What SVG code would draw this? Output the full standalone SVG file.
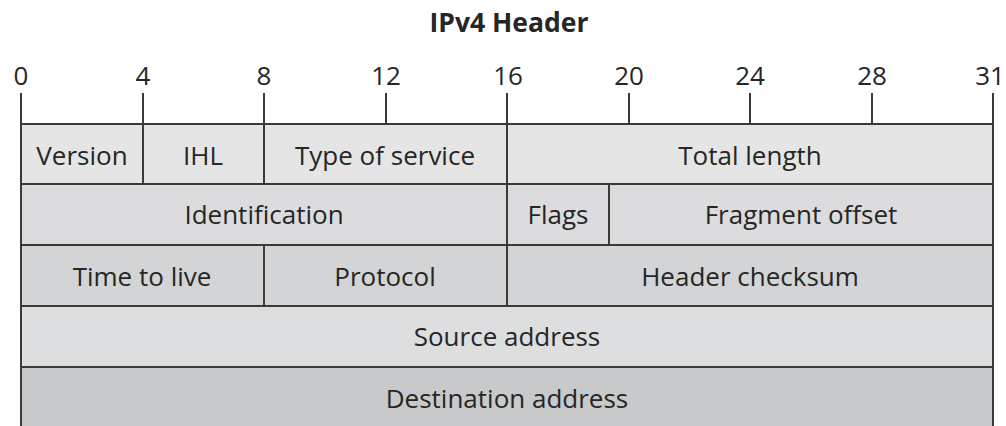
<svg xmlns="http://www.w3.org/2000/svg" width="1006" height="426" viewBox="0 0 1006 426">
<style>
.f{stroke:#3a3a3a;stroke-width:2}
.t{font-family:"Open Sans","Noto Sans",sans-serif;font-size:26px;fill:#262626;text-anchor:middle}
.n{font-family:"Open Sans","Noto Sans",sans-serif;font-size:26px;fill:#262626;text-anchor:middle}
.h{font-family:"Open Sans","Noto Sans",sans-serif;font-size:26.5px;font-weight:bold;fill:#262626;text-anchor:middle}
.tick{stroke:#3a3a3a;stroke-width:2}
.r1{fill:#e5e5e5}.r2{fill:#dcdcde}.r3{fill:#d3d4d6}.r4{fill:#dddee0}.r5{fill:#c8c9cb}
</style>
<rect width="1006" height="426" fill="#ffffff"/>
<text class="h" x="509" y="32">IPv4 Header</text>
<g id="ruler">
<line class="tick" x1="21" y1="93" x2="21" y2="124"/>
<line class="tick" x1="143" y1="93" x2="143" y2="124"/>
<line class="tick" x1="264" y1="93" x2="264" y2="124"/>
<line class="tick" x1="386" y1="93" x2="386" y2="124"/>
<line class="tick" x1="507" y1="93" x2="507" y2="124"/>
<line class="tick" x1="629" y1="93" x2="629" y2="124"/>
<line class="tick" x1="750" y1="93" x2="750" y2="124"/>
<line class="tick" x1="872" y1="93" x2="872" y2="124"/>
<line class="tick" x1="993" y1="93" x2="993" y2="124"/>
<text class="n" x="21" y="85">0</text>
<text class="n" x="143" y="85">4</text>
<text class="n" x="264" y="85">8</text>
<text class="n" x="386" y="85">12</text>
<text class="n" x="508" y="85">16</text>
<text class="n" x="629" y="85">20</text>
<text class="n" x="750" y="85">24</text>
<text class="n" x="872" y="85">28</text>
<text class="n" x="990" y="85">31</text>
</g>
<g id="version"><rect class="f r1" x="21" y="124" width="122" height="60"/><text class="t" x="82" y="165">Version</text></g>
<g id="ihl"><rect class="f r1" x="143" y="124" width="121" height="60"/><text class="t" x="203" y="165">IHL</text></g>
<g id="tos"><rect class="f r1" x="264" y="124" width="243" height="60"/><text class="t" x="385" y="165">Type of service</text></g>
<g id="total-length"><rect class="f r1" x="507" y="124" width="486" height="60"/><text class="t" x="750" y="165">Total length</text></g>
<g id="identification"><rect class="f r2" x="21" y="184" width="486" height="61"/><text class="t" x="264" y="224">Identification</text></g>
<g id="flags"><rect class="f r2" x="507" y="184" width="102" height="61"/><text class="t" x="558" y="224">Flags</text></g>
<g id="fragment-offset"><rect class="f r2" x="609" y="184" width="384" height="61"/><text class="t" x="801" y="224">Fragment offset</text></g>
<g id="ttl"><rect class="f r3" x="21" y="245" width="243" height="61"/><text class="t" x="142" y="286">Time to live</text></g>
<g id="protocol"><rect class="f r3" x="264" y="245" width="243" height="61"/><text class="t" x="385" y="286">Protocol</text></g>
<g id="header-checksum"><rect class="f r3" x="507" y="245" width="486" height="61"/><text class="t" x="750" y="286">Header checksum</text></g>
<g id="source-address"><rect class="f r4" x="21" y="306" width="972" height="61"/><text class="t" x="507" y="346">Source address</text></g>
<g id="destination-address"><rect class="f r5" x="21" y="367" width="972" height="70"/><text class="t" x="507" y="408">Destination address</text></g>
</svg>
